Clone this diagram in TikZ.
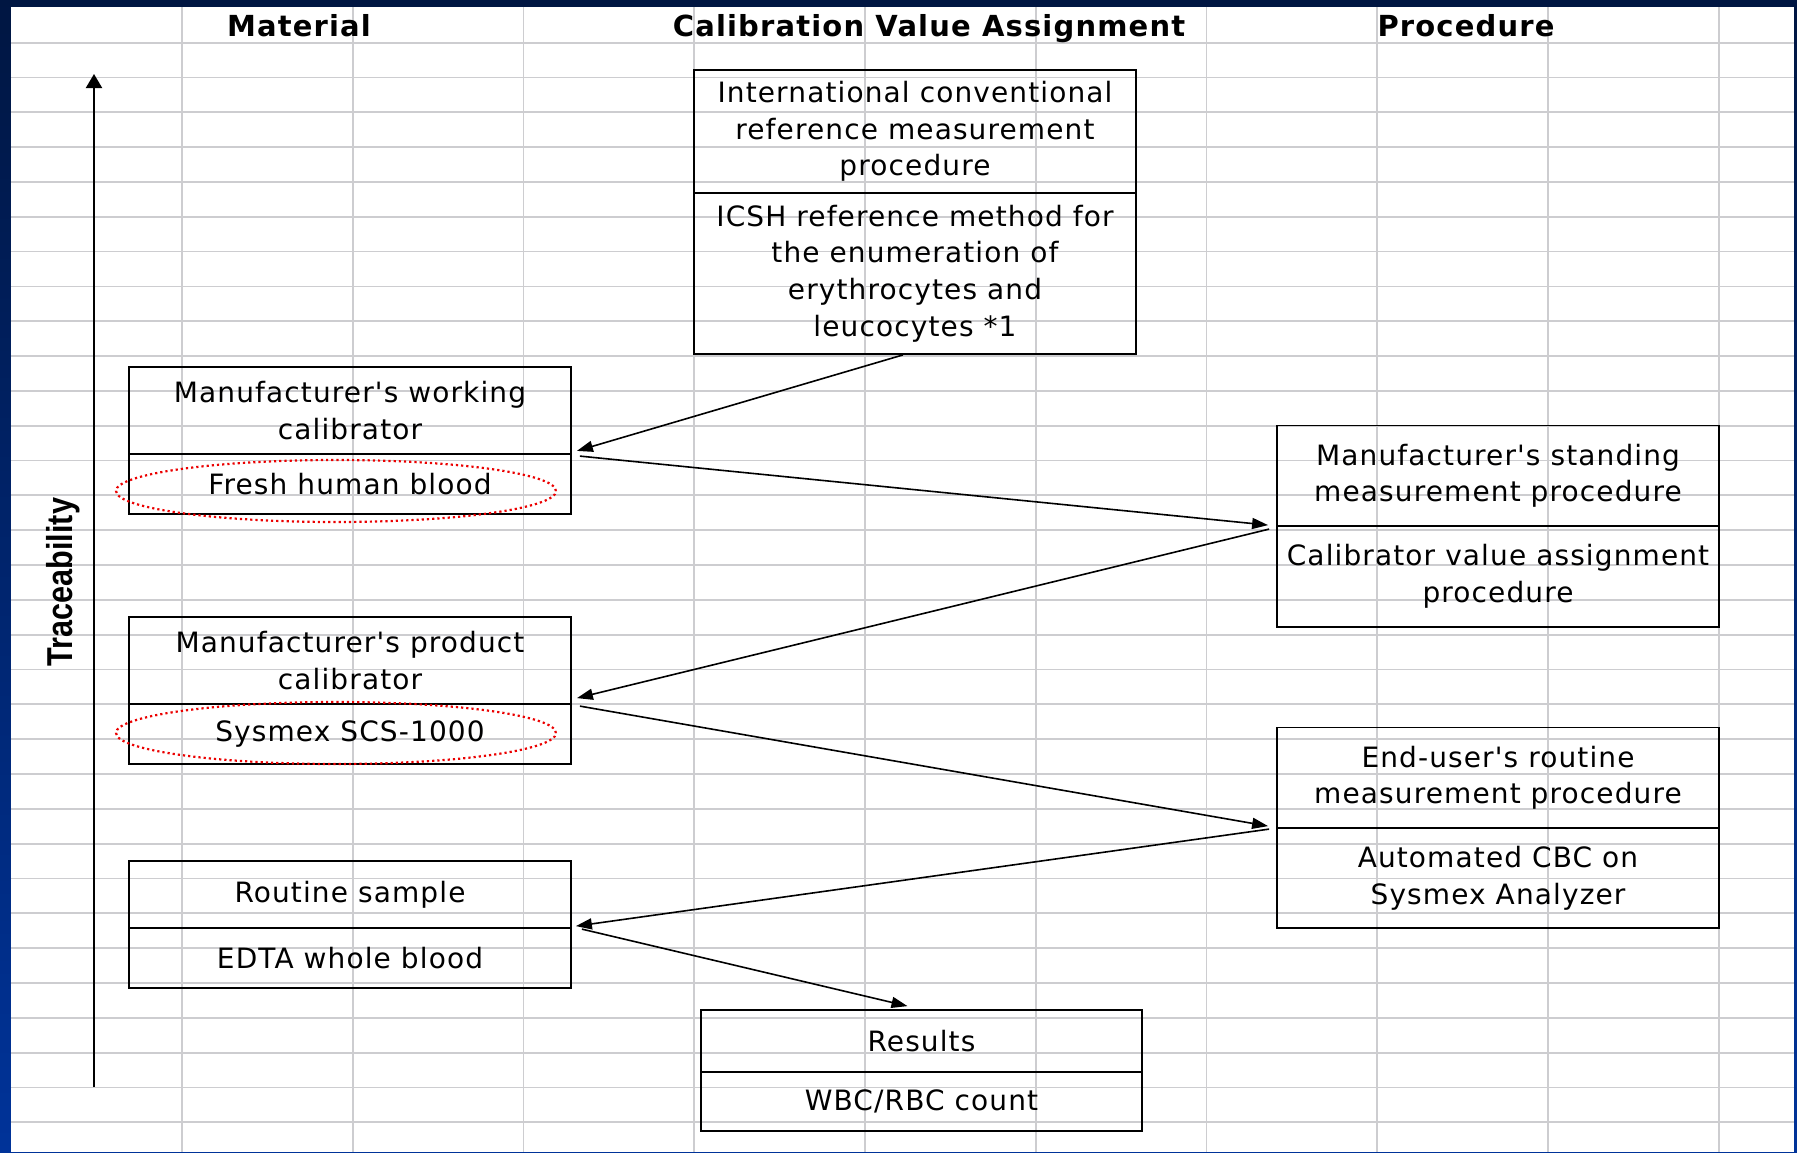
\documentclass[tikz,border=0pt]{standalone}
\usepackage{fontspec}
\usepackage{graphicx}
\setmainfont{DejaVu Sans}[LetterSpace=4, Ligatures=TeXOff]
\newfontfamily\trfont{Liberation Sans}
\usetikzlibrary{arrows.meta,shapes.geometric}
\definecolor{gridc}{RGB}{205,205,208}
\definecolor{navy}{RGB}{0,22,66}
\definecolor{midblue}{RGB}{0,42,125}
\definecolor{royal}{RGB}{0,51,153}
\definecolor{dotred}{RGB}{235,0,0}
\newcommand\boxfont{\fontsize{28}{36.7}\selectfont}
\newcommand\hdrfont{\fontsize{29}{32}\selectfont\bfseries}
\begin{document}
\begin{tikzpicture}[x=1pt,y=-1pt,
  gridline/.style={draw=gridc, line width=1.8pt},
  box/.style={draw=black, line width=1.8pt, inner sep=0pt, align=center, minimum width=442pt, font=\boxfont},
  conn/.style={line width=1.6pt, -{Triangle[length=16pt,width=11pt]}},
  ring/.style={ellipse, draw=dotred, line width=2.2pt, dash pattern=on 2.2pt off 3pt, minimum width=440pt, minimum height=62pt, inner sep=0pt},
  hdr/.style={font=\hdrfont, inner sep=0pt, anchor=base}]
\useasboundingbox (0,0) rectangle (1797,1152);
\shade[top color=navy, middle color=midblue, bottom color=royal] (0,0) rectangle (1797,1152);
\fill[white] (11,7) rectangle (1794,1152);
% grid
\foreach \k in {1,...,10} \draw[gridline] ({11.3+170.75*\k},7) -- ({11.3+170.75*\k},1152);
\foreach \k in {0,...,31} \draw[gridline] (11,{42.6+34.83*\k}) -- (1794,{42.6+34.83*\k});
% headers
\node[hdr] (h1) at (299,36.5) {Material};
\node[hdr] (h2) at (929,36.5) {Calibration Value Assignment};
\node[hdr] (h3) at (1466,36.5) {Procedure};
% traceability
\coordinate (tb) at (94,1087);
\coordinate (tt) at (94,74);
\draw[line width=2pt, -{Triangle[length=14pt,width=16pt]}] (tb) -- (tt);
\node[rotate=90, anchor=base, inner sep=0pt, font=\trfont\bfseries\fontsize{36}{40}\selectfont] (trace) at (72,582) {\scalebox{0.85}[1]{Traceability}};
% boxes
\node[box, minimum height=123pt] (topA) at (915,131.5) {International conventional\\reference measurement\\procedure};
\node[box, minimum height=161pt] (topB) at (915,273.5) {ICSH reference method for\\the enumeration of\\erythrocytes and\\leucocytes *1};
\node[box, minimum height=87pt] (wcA) at (350,410.5) {Manufacturer's working\\calibrator};
\node[box, minimum height=60pt] (wcB) at (350,484) {Fresh human blood};
\node[box, minimum height=87pt] (pcA) at (350,660.5) {Manufacturer's product\\calibrator};
\node[box, minimum height=60pt] (pcB) at (350,734) {Sysmex SCS-1000};
\node[box, minimum height=67pt] (rsA) at (350,894.5) {Routine sample};
\node[box, minimum height=60pt] (rsB) at (350,958) {EDTA whole blood};
\node[box, minimum height=100.5pt] (msA) at (1498,475.75) {Manufacturer's standing\\measurement procedure};
\node[box, minimum height=101pt] (msB) at (1498,576.5) {Calibrator value assignment\\procedure};
\node[box, minimum height=100.5pt] (euA) at (1498,777.75) {End-user's routine\\measurement procedure};
\node[box, minimum height=100pt] (euB) at (1498,878) {Automated CBC on\\Sysmex Analyzer};
\node[box, minimum width=441pt, minimum height=62pt] (resA) at (921.5,1041) {Results};
\node[box, minimum width=441pt, minimum height=59pt] (resB) at (921.5,1101.5) {WBC/RBC count};
% red dotted rings
\node[ring] (ring1) at (336,491) {};
\node[ring] (ring2) at (336,733) {};
% connectors
\draw[conn] ([xshift=-12pt]topB.south) -- ([xshift=5pt,yshift=4pt]wcA.south east);
\draw[conn] ([xshift=8pt,yshift=-3pt]wcB.north east) -- ([xshift=-8pt]msB.north west);
\draw[conn] ([xshift=-7pt,yshift=-4pt]msB.north west) -- ([xshift=5pt,yshift=5pt]pcB.north east);
\draw[conn] ([xshift=8pt,yshift=-3pt]pcB.north east) -- ([xshift=-8pt,yshift=1pt]euB.north west);
\draw[conn] ([xshift=-7pt,yshift=-2pt]euB.north west) -- ([xshift=4pt,yshift=1pt]rsB.north east);
\draw[conn] ([xshift=10pt,yshift=-2pt]rsB.north east) -- ([xshift=-14pt,yshift=3pt]resA.north);
\end{tikzpicture}
\end{document}
